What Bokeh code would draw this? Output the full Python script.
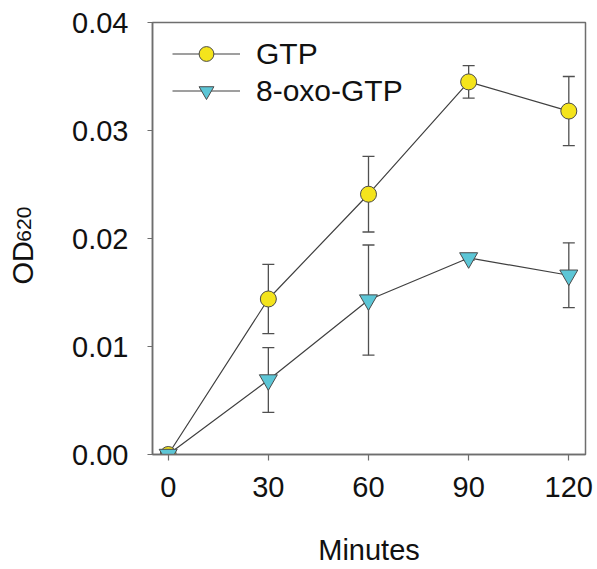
import math
from bokeh.plotting import figure
from bokeh.models import (ColumnDataSource, Whisker, TeeHead, FixedTicker,
                          PrintfTickFormatter, Legend, LegendItem, Range1d, Label)
from bokeh.embed import file_html
from bokeh.resources import INLINE

# ---- data ----
minutes = [0, 30, 60, 90, 120]
gtp = [0.0, 0.0144, 0.0241, 0.0345, 0.0318]
gtp_err = [0.0, 0.0032, 0.0035, 0.0015, 0.0032]
oxo = [0.0, 0.0069, 0.0143, 0.0182, 0.0166]
oxo_err = [0.0, 0.0030, 0.0051, 0.0002, 0.0030]
x_ticks = [0, 30, 60, 90, 120]
y_ticks = [0.0, 0.01, 0.02, 0.03, 0.04]
series_names = ["GTP", "8-oxo-GTP"]
x_label = "Minutes"
y_label_main = "OD"
y_label_sub = "620"

FONT = "Liberation Sans"
AX = "#6e6e6e"
LINE = "#404040"
YELLOW = "#f4e41c"
CYAN = "#5cc6d6"

X0, X1 = -4.7, 125
p = figure(width=597, height=569, output_backend="svg", toolbar_location=None,
           x_range=Range1d(X0, X1), y_range=Range1d(0, 0.04),
           min_border_left=152, min_border_right=12, min_border_top=22,
           min_border_bottom=115)
p.background_fill_color = "white"
p.border_fill_color = "white"
p.outline_line_color = AX
p.outline_line_width = 1.5
p.grid.visible = False

def whisk_source(vals, errs):
    xs, up, lo = [], [], []
    for x, v, e in zip(minutes, vals, errs):
        if e > 0:
            xs.append(x); up.append(v + e); lo.append(v - e)
    return ColumnDataSource(dict(x=xs, upper=up, lower=lo))

for vals, errs in ((gtp, gtp_err), (oxo, oxo_err)):
    w = Whisker(base="x", upper="upper", lower="lower", source=whisk_source(vals, errs),
                line_color="#505050", line_width=1.3, level="underlay",
                upper_head=TeeHead(size=12, line_color="#505050", line_width=1.3),
                lower_head=TeeHead(size=12, line_color="#505050", line_width=1.3))
    p.add_layout(w)

src_g = ColumnDataSource(dict(x=minutes, y=gtp))
src_o = ColumnDataSource(dict(x=minutes, y=oxo))
lg = p.line("x", "y", source=src_g, line_color=LINE, line_width=1.2)
lo_ = p.line("x", "y", source=src_o, line_color=LINE, line_width=1.2)
mg = p.scatter("x", "y", source=src_g, marker="circle", size=16,
               fill_color=YELLOW, line_color="#4a4a4a", line_width=1)
mo = p.scatter("x", "y", source=src_o, marker="inverted_triangle", size=18,
               fill_color=CYAN, line_color="#4a4a4a", line_width=1)

legend = Legend(items=[LegendItem(label=series_names[0], renderers=[lg, mg]),
                       LegendItem(label=series_names[1], renderers=[lo_, mo])],
                location=(20, 345), border_line_color=None,
                background_fill_alpha=0, padding=0, margin=0, spacing=0,
                glyph_width=68, glyph_height=37, label_height=37,
                label_standoff=16, label_text_font=FONT,
                label_text_font_size="30px", label_text_color="#111111")
p.add_layout(legend)

for ax in (p.xaxis[0], p.yaxis[0]):
    ax.axis_line_color = AX
    ax.axis_line_width = 1.5
    ax.major_tick_line_color = AX
    ax.major_tick_line_width = 1.2
    ax.major_tick_in = 0
    ax.minor_tick_line_color = None
    ax.major_label_text_font = FONT
    ax.major_label_text_font_size = "29px"
    ax.major_label_text_color = "#111111"

p.xaxis.ticker = FixedTicker(ticks=x_ticks)
p.xaxis.major_tick_out = 6
p.xaxis.major_label_standoff = 16
p.xaxis.axis_label = x_label
p.xaxis.axis_label_text_font = FONT
p.xaxis.axis_label_text_font_size = "29px"
p.xaxis.axis_label_text_font_style = "normal"
p.xaxis.axis_label_text_color = "#111111"
p.xaxis.axis_label_standoff = 34

p.yaxis.ticker = FixedTicker(ticks=y_ticks)
p.yaxis.formatter = PrintfTickFormatter(format="%.2f")
p.yaxis.major_tick_out = 5
p.yaxis.major_label_standoff = 19

# y-axis title "OD" with subscript "620", in the left side panel (not clipped)
px_per_x = 433.0 / (X1 - X0)
px_per_y = 432.3 / 0.04
lab_x = X0 - 130.0 / px_per_x
p.add_layout(Label(x=lab_x, y=170 / px_per_y, text=y_label_main, angle=math.pi / 2,
                   text_align="left", text_baseline="alphabetic", text_font=FONT,
                   text_font_size="29px", text_color="#111111"), "left")
p.add_layout(Label(x=lab_x + 0.3, y=213 / px_per_y, text=y_label_sub, angle=math.pi / 2,
                   text_align="left", text_baseline="alphabetic", text_font=FONT,
                   text_font_size="21px", text_color="#111111"), "left")

open("out.html", "w").write(file_html(p, INLINE))
